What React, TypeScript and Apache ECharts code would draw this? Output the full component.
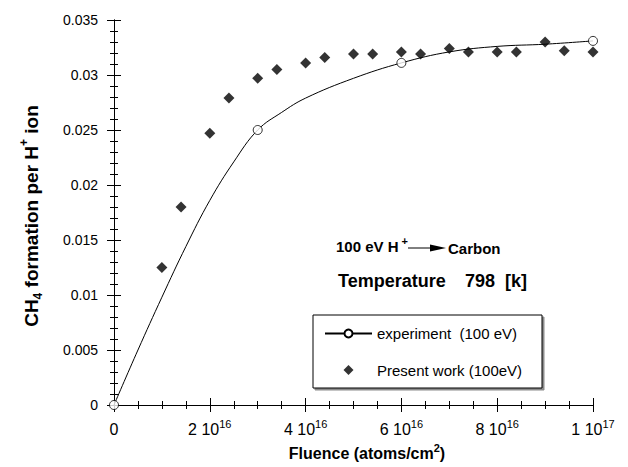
import React, { useEffect, useRef } from "react";
import * as echarts from "echarts";

// Present work (100 eV): fluence (atoms/cm^2) and CH4 yield per H+ ion
const presentFluence = [1.0e16, 1.4e16, 2.0e16, 2.4e16, 3.0e16, 3.4e16, 4.0e16, 4.4e16, 5.0e16, 5.4e16, 6.0e16, 6.4e16, 7.0e16, 7.4e16, 8.0e16, 8.4e16, 9.0e16, 9.4e16, 1.0e17];
const presentYield = [0.0125, 0.0180, 0.0247, 0.0279, 0.0297, 0.0305, 0.0311, 0.0316, 0.0319, 0.0319, 0.0321, 0.0319, 0.0324, 0.0321, 0.0321, 0.0321, 0.0330, 0.0322, 0.0321];

// Experiment (100 eV): measured points (open circles)
const expFluence = [0, 3.0e16, 6.0e16, 1.0e17];
const expYield = [0, 0.0250, 0.0311, 0.0331];

// Experiment fit curve
const curveFluence = [0, 0.5e16, 1.0e16, 1.5e16, 2.0e16, 2.5e16, 3.0e16, 3.5e16, 4.0e16, 5.0e16, 6.0e16, 7.0e16, 8.0e16, 9.0e16, 1.0e17];
const curveYield = [0, 0.0050, 0.0098, 0.0144, 0.0186, 0.0221, 0.0250, 0.0266, 0.0279, 0.0297, 0.0311, 0.0321, 0.0326, 0.0328, 0.0331];

// Tick labels
const xTickMantissa = ["0", "2 10", "4 10", "6 10", "8 10", "1 10"];
const xTickExponent = ["", "16", "16", "16", "16", "17"];
const yTickLabels = ["0", "0.005", "0.01", "0.015", "0.02", "0.025", "0.03", "0.035"];

const EXP_NAME = "experiment  (100 eV)";
const PW_NAME = "Present work (100eV)";
const FONT = "'Liberation Sans', Arial, sans-serif";

export default function App() {
  const ref = useRef<HTMLDivElement>(null);

  useEffect(() => {
    document.body.style.margin = "0";
    if (!ref.current) return;
    const chart = echarts.init(ref.current, null, { renderer: "svg" });

    const axisCommon = {
      axisLine: { show: true, lineStyle: { color: "#000", width: 1 } },
      splitLine: { show: false },
      minorSplitLine: { show: false },
    };

    const option: any = {
      animation: false,
      backgroundColor: "#fff",
      textStyle: { fontFamily: FONT, color: "#000" },
      grid: { left: 114, top: 20, right: 35, bottom: 62, containLabel: false },
      xAxis: [
        {
          type: "value",
          min: 0,
          max: 1e17,
          interval: 2e16,
          position: "bottom",
          ...axisCommon,
          axisTick: { show: true, inside: true, length: 7, lineStyle: { color: "#000" } },
          minorTick: { show: true, splitNumber: 4, length: 4, lineStyle: { color: "#000" } },
          axisLabel: {
            margin: 13,
            color: "#000",
            fontFamily: FONT,
            formatter: (v: number) => {
              const i = Math.round(v / 2e16);
              if (!xTickExponent[i]) return "{a|" + xTickMantissa[i] + "}";
              return "{a|" + xTickMantissa[i] + "}{s|" + xTickExponent[i] + "}";
            },
            rich: {
              a: { fontSize: 16, lineHeight: 22, color: "#000", fontFamily: FONT },
              s: { fontSize: 11, lineHeight: 9, verticalAlign: "top", color: "#000", fontFamily: FONT },
            },
          },
        },
        {
          type: "value",
          min: 0,
          max: 1e17,
          interval: 2e16,
          position: "top",
          ...axisCommon,
          axisTick: { show: true, inside: true, length: 7, lineStyle: { color: "#000" } },
          minorTick: { show: true, splitNumber: 4, length: 4, lineStyle: { color: "#000" } },
          axisLabel: { show: false },
        },
      ],
      yAxis: [
        {
          type: "value",
          min: 0,
          max: 0.035,
          interval: 0.005,
          position: "left",
          ...axisCommon,
          axisTick: { show: true, inside: true, length: 7, lineStyle: { color: "#000" } },
          minorTick: { show: true, splitNumber: 5, length: 4, lineStyle: { color: "#000" } },
          axisLabel: {
            margin: 16,
            color: "#000",
            fontSize: 14,
            fontFamily: FONT,
            formatter: (v: number) => yTickLabels[Math.round(v / 0.005)],
          },
        },
        {
          type: "value",
          min: 0,
          max: 0.035,
          interval: 0.005,
          position: "right",
          ...axisCommon,
          axisTick: { show: true, inside: true, length: 7, lineStyle: { color: "#000" } },
          minorTick: { show: true, splitNumber: 5, length: 4, lineStyle: { color: "#000" } },
          axisLabel: { show: false },
        },
      ],
      legend: {
        data: [
          { name: EXP_NAME },
          { name: PW_NAME, icon: "path://M0,-1L1,0L0,1L-1,0Z" },
        ],
        orient: "vertical",
        left: 324,
        top: 326,
        padding: 0,
        itemGap: 21.5,
        itemWidth: 47,
        itemHeight: 10,
        symbolKeepAspect: true,
        selectedMode: false,
        textStyle: { fontSize: 15, color: "#000", fontFamily: FONT },
        z: 10,
      },
      graphic: [
        {
          type: "rect",
          shape: { x: 313, y: 315, width: 229, height: 73 },
          style: { fill: "#fff", stroke: "#000", lineWidth: 1, shadowColor: "rgba(0,0,0,0.45)", shadowOffsetX: 2, shadowOffsetY: 2, shadowBlur: 0 },
          z: 1,
        },
        {
          type: "text",
          x: 31,
          y: 216,
          rotation: Math.PI / 2,
          style: {
            text: "{b|CH}{sub|4}{b| formation per H}{sup|+}{b| ion}",
            align: "center",
            verticalAlign: "middle",
            rich: {
              b: { fontSize: 19, fontWeight: "bold", fontFamily: FONT, fill: "#000", lineHeight: 26 },
              sub: { fontSize: 12, fontWeight: "bold", fontFamily: FONT, fill: "#000", lineHeight: 12, verticalAlign: "bottom" },
              sup: { fontSize: 12, fontWeight: "bold", fontFamily: FONT, fill: "#000", lineHeight: 12, verticalAlign: "top" },
            },
          },
        },
        {
          type: "text",
          x: 367,
          y: 453,
          style: {
            text: "{b|Fluence (atoms/cm}{sup|2}{b|)}",
            align: "center",
            verticalAlign: "middle",
            rich: {
              b: { fontSize: 16, fontWeight: "bold", fontFamily: FONT, fill: "#000", lineHeight: 22 },
              sup: { fontSize: 11, fontWeight: "bold", fontFamily: FONT, fill: "#000", lineHeight: 10, verticalAlign: "top" },
            },
          },
        },
        {
          type: "text",
          x: 336,
          y: 246,
          style: {
            text: "{b|100 eV H}{sup| +}",
            align: "left",
            verticalAlign: "middle",
            rich: {
              b: { fontSize: 15, fontWeight: "bold", fontFamily: FONT, fill: "#000", lineHeight: 22 },
              sup: { fontSize: 11, fontWeight: "bold", fontFamily: FONT, fill: "#000", lineHeight: 10, verticalAlign: "top" },
            },
          },
        },
        {
          type: "line",
          shape: { x1: 408, y1: 248, x2: 432, y2: 248 },
          style: { stroke: "#000", lineWidth: 1 },
        },
        {
          type: "polygon",
          shape: { points: [[430, 244.5], [446, 248], [430, 251.5]] },
          style: { fill: "#000" },
        },
        {
          type: "text",
          x: 448,
          y: 248,
          style: { text: "Carbon", align: "left", verticalAlign: "middle", fontSize: 15, fontWeight: "bold", fontFamily: FONT, fill: "#000" },
        },
        {
          type: "text",
          x: 338,
          y: 281,
          style: { text: "Temperature", align: "left", verticalAlign: "middle", fontSize: 18, fontWeight: "bold", fontFamily: FONT, fill: "#000" },
        },
        {
          type: "text",
          x: 465,
          y: 281,
          style: { text: "798  [k]", align: "left", verticalAlign: "middle", fontSize: 18, fontWeight: "bold", fontFamily: FONT, fill: "#000" },
        },
      ],
      series: [
        {
          name: EXP_NAME,
          type: "line",
          data: curveFluence.map((x, i) => [x, curveYield[i]]),
          smooth: 0.4,
          symbol: "circle",
          symbolSize: 9,
          showSymbol: false,
          itemStyle: { color: "#fff", borderColor: "#000", borderWidth: 1 },
          lineStyle: { color: "#000", width: 1 },
          z: 2,
        },
        {
          name: EXP_NAME,
          type: "scatter",
          data: expFluence.map((x, i) => [x, expYield[i]]),
          symbol: "circle",
          symbolSize: 9,
          clip: false,
          itemStyle: { color: "#fff", borderColor: "#000", borderWidth: 1 },
          z: 3,
        },
        {
          name: PW_NAME,
          type: "scatter",
          data: presentFluence.map((x, i) => [x, presentYield[i]]),
          symbol: "diamond",
          symbolSize: 11,
          clip: false,
          itemStyle: { color: "#000" },
          z: 4,
        },
      ],
    };

    chart.setOption(option);
    return () => chart.dispose();
  }, []);

  return <div ref={ref} style={{ width: 628, height: 467 }} />;
}
